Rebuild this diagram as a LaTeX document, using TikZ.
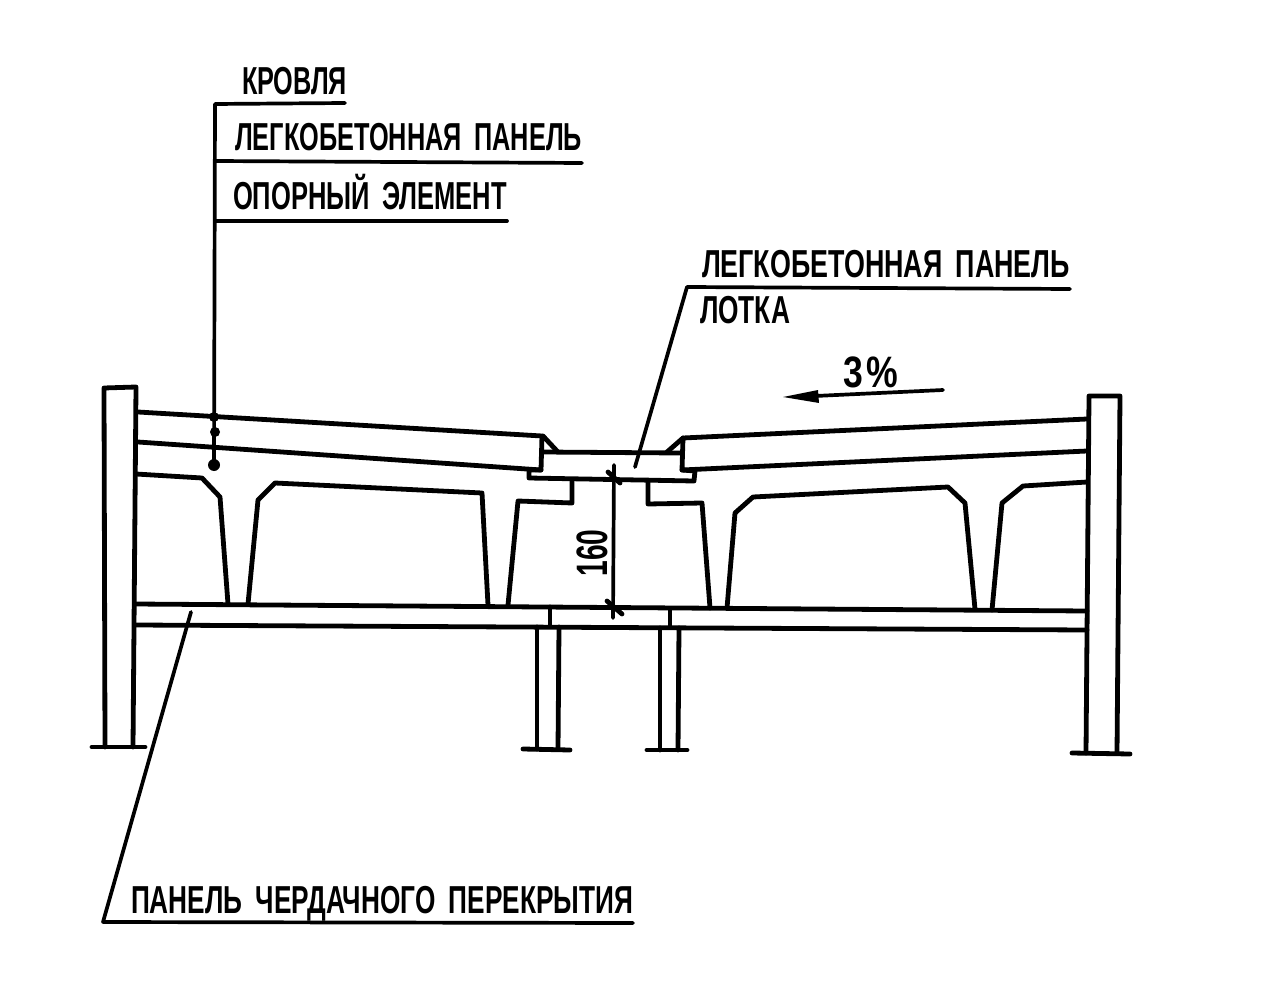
\documentclass[tikz,border=0pt]{standalone}
\usepackage{graphicx}
\usepackage{fontspec}
\setmainfont{Liberation Sans}
\newsavebox\lblbox
\newcommand{\fitw}[2]{\sbox\lblbox{#2}\pgfmathsetmacro\fitsx{#1/\the\wd\lblbox}\scalebox{\fitsx}[1]{\usebox\lblbox}}
\newcommand{\gap}{\hspace{0.5em}}
\tikzset{
  main/.style={draw=black,line width=4.8pt,line cap=round,line join=round},
  leader/.style={draw=black,line width=3.7pt,line cap=round,line join=round},
  lbl/.style={inner sep=0pt,outer sep=0pt,anchor=base west,text=black,font=\fontsize{39}{41}\selectfont\bfseries},
  dotmark/.style={fill=black,draw=none}
}
\begin{document}
\begin{tikzpicture}[x=1pt,y=-1pt]
\useasboundingbox[fill=white] (0,0) rectangle (1279,984);

% left wall
\draw[main] (105,747) -- (104,388) -- (136,387) -- (133,747);
\draw[main] (92,747) -- (145,747);
% right wall
\draw[main] (1086,753) -- (1089,396) -- (1120,396) -- (1117,753);
\draw[main] (1072,753) -- (1130,754);
% centre columns
\draw[main] (537,627) -- (537,749);
\draw[main] (559,627) -- (558,749);
\draw[main] (523,749) -- (570,750);
\draw[main] (660,628) -- (660,750);
\draw[main] (679,628) -- (678,750);
\draw[main] (647,750) -- (687,750);

% attic floor panel
\draw[main] (135,604) -- (1087,611);
\draw[main] (135,625) -- (1087,630);
\draw[main] (550,607) -- (550,626);
\draw[main] (670,609) -- (670,627);

% roof panels
\draw[main] (138,412) -- (542,436) -- (541,470) -- (138,442);
\draw[main] (1087,419) -- (683,438) -- (682,470) -- (1087,451);
% gutter panel
\draw[main] (543,436) -- (557,451);
\draw[main] (683,438) -- (667,452);
\draw[main] (543,452) -- (680,453);
\draw[main] (541,470) -- (529,470) -- (529,478) -- (694,481) -- (695,471) -- (682,470);

% left ribbed beam
\draw[main] (136,474) -- (202,478) -- (220,497) -- (228,604);
\draw[main] (248,604) -- (258,500) -- (275,483) -- (482,493) -- (488,605);
\draw[main] (508,605) -- (518,501) -- (572,503) -- (572,480);
% right ribbed beam
\draw[main] (648,480) -- (648,504) -- (702,503) -- (710,608);
\draw[main] (727,608) -- (735,513) -- (753,497) -- (948,487) -- (965,503) -- (975,609);
\draw[main] (992,610) -- (1002,503) -- (1023,486) -- (1087,482);

% leaders, upper left
\coordinate (upA) at (215,104);
\coordinate (dotA) at (214,417);
\coordinate (dotB) at (215,432);
\coordinate (dotC) at (214,465);
\draw[leader] (dotC) -- (upA) -- (345,103);
\draw[leader] (215,161) -- (582,163);
\draw[leader] (215,221) -- (507,221);
\fill[dotmark] (dotA) circle[radius=5pt];
\fill[dotmark] (dotB) circle[radius=5pt];
\fill[dotmark] (dotC) circle[radius=6pt];

% gutter leader
\draw[leader] (1070,289) -- (687,287) -- (635,467);
% floor leader
\draw[leader] (191,612) -- (103,922) -- (633,923);

% slope arrow
\coordinate (slopeA) at (943,390);
\coordinate (slopeB) at (815,396);
\draw[leader] (slopeA) -- (slopeB);
\fill[black] (783,397) -- (818,390) -- (819,403) -- cycle;

% dimension
\draw[leader] (614,465) -- (613,618);
\draw[main] (608,472) -- (620,483);
\draw[main] (607,601) -- (622,614);

% labels
\node[lbl] (t1) at (242,95) {\fitw{105}{КРОВЛЯ}};
\node[lbl] (t2) at (235,151) {\fitw{347}{ЛЕГКОБЕТОННАЯ\gap ПАНЕЛЬ}};
\node[lbl] (t3) at (233,210) {\fitw{274}{ОПОРНЫЙ\gap ЭЛЕМЕНТ}};
\node[lbl] (t4) at (702,278) {\fitw{368}{ЛЕГКОБЕТОННАЯ\gap ПАНЕЛЬ}};
\node[lbl] (t5) at (700,323) {\fitw{90}{ЛОТКА}};
\node[lbl,font=\fontsize{44}{46}\selectfont\bfseries] (t6) at (843,387) {\fitw{55}{3\hspace{0.1em}\%}};
\node[lbl] (t7) at (131,913) {\fitw{502}{ПАНЕЛЬ\gap ЧЕРДАЧНОГО\gap ПЕРЕКРЫТИЯ}};
\node[lbl,anchor=center,rotate=90,font=\fontsize{44}{46}\selectfont\bfseries] (t8) at (592,553) {\fitw{47}{160}};
\end{tikzpicture}
\end{document}
